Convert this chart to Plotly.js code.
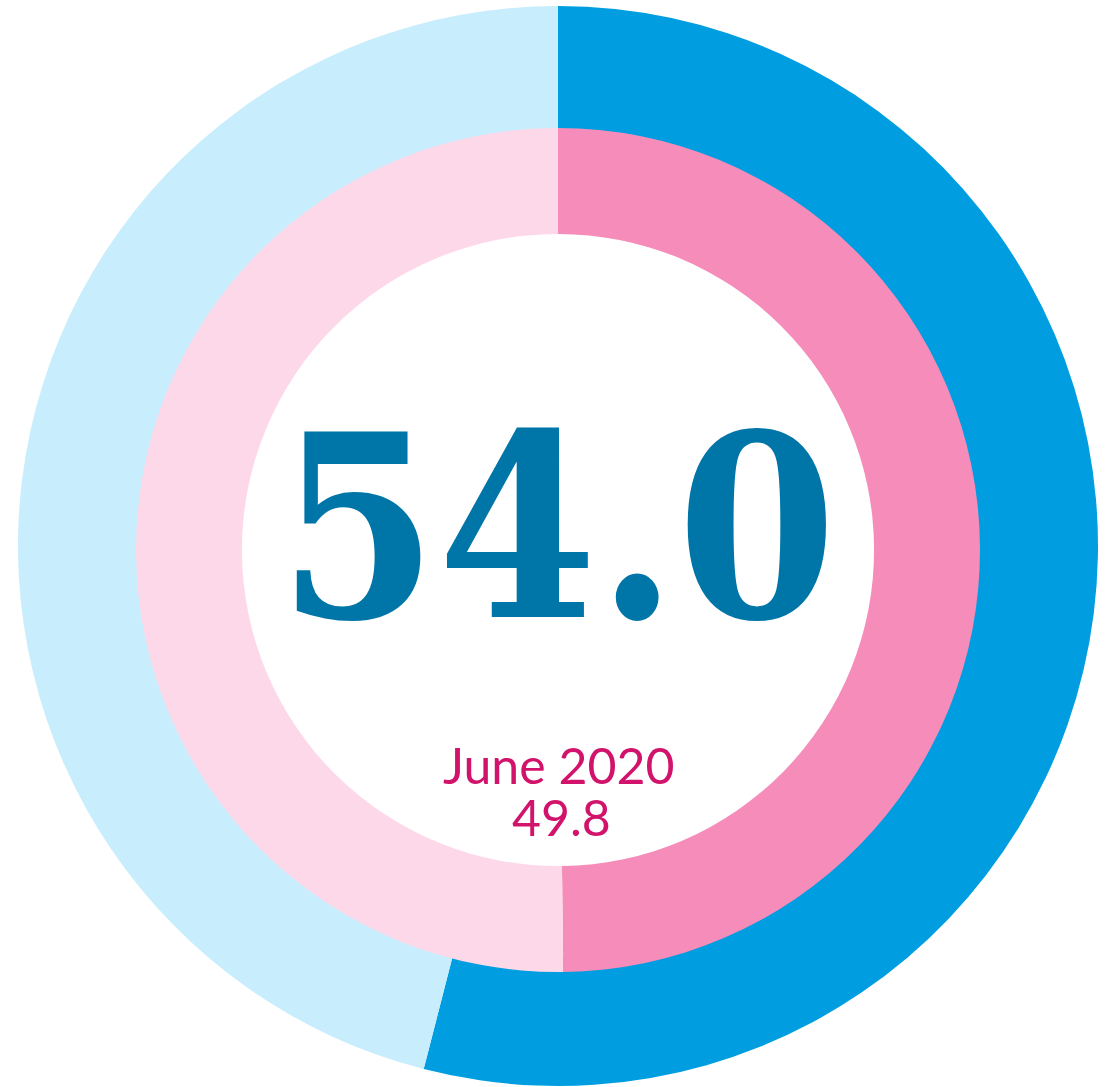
<!DOCTYPE html>
<html>
<head>
<meta charset="utf-8">
<script src="https://cdn.plot.ly/plotly-3.0.1.min.js"></script>
<style>html,body{margin:0;padding:0;background:#fff;}#chart{width:1112px;height:1087px;}</style>
</head>
<body>
<div id="chart"></div>
<script>
// Data
const outerLabels = ["Current", "Remainder"];
const outerValues = [54.0, 46.0];
const innerLabels = ["June 2020", "Remainder"];
const innerValues = [49.8, 50.2];
const mainValueText = "54.0";
const priorLabel = "June 2020";
const priorValueText = "49.8";

const W = 1112, H = 1087;
function dom(cx, cy, r) {
  return {
    x: [(cx - r) / W, (cx + r) / W],
    y: [(H - cy - r) / H, (H - cy + r) / H]
  };
}

const traces = [
  {
    type: "pie",
    labels: outerLabels,
    values: outerValues,
    sort: false,
    direction: "clockwise",
    rotation: 0,
    hole: 0.76,
    domain: dom(558, 546, 540),
    marker: { colors: ["#009ee0", "#c8edfd"], line: { width: 0 } },
    textinfo: "none",
    hoverinfo: "none",
    showlegend: false
  },
  {
    type: "pie",
    labels: innerLabels,
    values: innerValues,
    sort: false,
    direction: "clockwise",
    rotation: 0,
    hole: 0.749,
    domain: dom(558, 550, 422),
    marker: { colors: ["#f58cba", "#fdd8e9"], line: { width: 0 } },
    textinfo: "none",
    hoverinfo: "none",
    showlegend: false
  }
];

const layout = {
  width: W,
  height: H,
  margin: { l: 0, r: 0, t: 0, b: 0, pad: 0 },
  paper_bgcolor: "#ffffff",
  showlegend: false,
  annotations: [
    {
      text: "<b>" + mainValueText + "</b>",
      x: 557 / W, y: (H - 527) / H, xref: "paper", yref: "paper",
      xanchor: "center", yanchor: "middle", showarrow: false,
      font: { family: "DejaVu Serif Condensed, Liberation Serif, serif", size: 255, color: "#0076a8" }
    },
    {
      text: priorLabel,
      x: 558 / W, y: (H - 765) / H, xref: "paper", yref: "paper",
      xanchor: "center", yanchor: "middle", showarrow: false,
      font: { family: "Lato", size: 50, color: "#d2136b" }
    },
    {
      text: priorValueText,
      x: 561 / W, y: (H - 817) / H, xref: "paper", yref: "paper",
      xanchor: "center", yanchor: "middle", showarrow: false,
      font: { family: "Lato", size: 50, color: "#d2136b" }
    }
  ]
};

Plotly.newPlot("chart", traces, layout, { staticPlot: true, displayModeBar: false });
</script>
</body>
</html>
